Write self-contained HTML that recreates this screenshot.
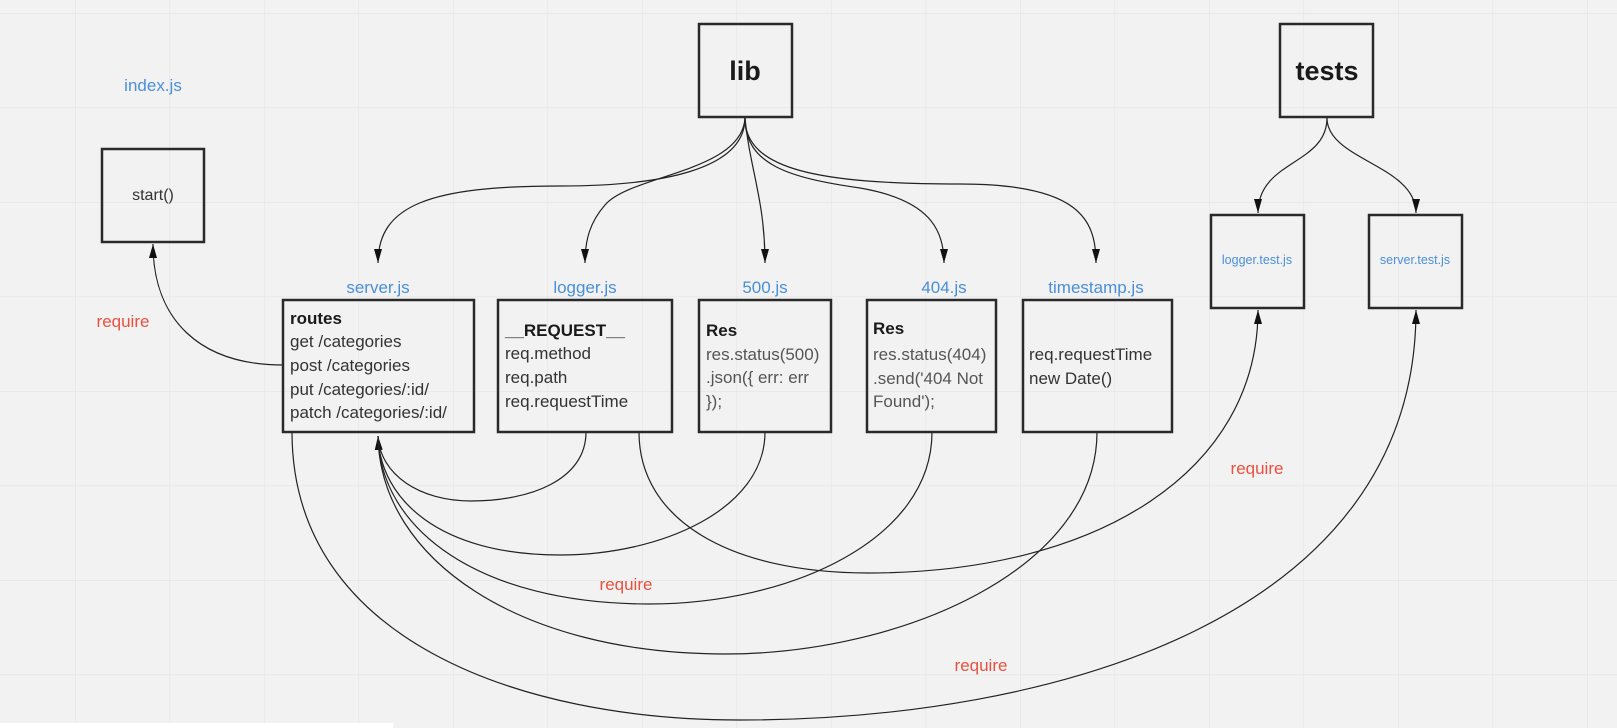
<!DOCTYPE html>
<html><head><meta charset="utf-8"><style>
html,body{margin:0;padding:0;background:#f2f2f2;}
svg{display:block;}
text{font-family:"Liberation Sans",sans-serif;}
</style></head><body>
<svg width="1617" height="728" viewBox="0 0 1617 728" xmlns="http://www.w3.org/2000/svg">
<defs>
<pattern id="g" x="75" y="13" width="94.5" height="94.5" patternUnits="userSpaceOnUse">
<path d="M0,0 V94.5 M0,0 H94.5" stroke="#e4e4e4" stroke-width="1.2" fill="none"/>
</pattern>
<marker id="a" viewBox="0 0 10 10" refX="10" refY="5" markerWidth="14" markerHeight="8" markerUnits="userSpaceOnUse" orient="auto" preserveAspectRatio="none">
<path d="M0,0 L10,5 L0,10 z" fill="#111"/>
</marker>
</defs>
<rect width="1617" height="728" fill="#f2f2f2"/>
<rect width="1617" height="728" fill="url(#g)"/>
<rect x="0" y="723" width="393" height="5" fill="#fff"/>

<g fill="none" stroke="#222" stroke-width="1.2">
<path d="M745,118 C745,170 660,186 560,186 C430,186 378,205 378,263" marker-end="url(#a)"/>
<path d="M745,118 C742,172 630,175 605,205 C590,222 585,240 585,263" marker-end="url(#a)"/>
<path d="M745,118 C750,170 765,200 765,263" marker-end="url(#a)"/>
<path d="M745,118 C745,165 790,178 860,188 C930,200 944,230 944,263" marker-end="url(#a)"/>
<path d="M745,118 C745,170 820,184 960,184 C1080,184 1096,220 1096,263" marker-end="url(#a)"/>
<path d="M1327,118 C1327,165 1258,160 1258,213" marker-end="url(#a)"/>
<path d="M1327,118 C1327,160 1416,165 1416,213" marker-end="url(#a)"/>
<path d="M283,365 C200,365 153,320 153,244" marker-end="url(#a)"/>
<path d="M586,432 C586,480 530,501 471,501 C420,501 380,475 378,436" marker-end="url(#a)"/>
<path d="M765,432 C765,510 660,555 560,555 C440,555 380,500 378,436"/>
<path d="M932,432 C932,540 790,604 649,604 C480,604 380,530 378,436"/>
<path d="M1097,432 C1097,570 900,654 725,654 C520,654 380,560 378,436"/>
<path d="M639,432 C639,520 730,573 868,573 C1100,573 1258,470 1258,310" marker-end="url(#a)"/>
<path d="M292,432 C292,640 520,720 740,720 C1050,720 1416,620 1416,310" marker-end="url(#a)"/>
</g>

<g fill="none" stroke="#2a2a2a" stroke-width="2.5">
<rect x="102" y="149" width="102" height="93"/>
<rect x="699" y="24" width="93" height="93"/>
<rect x="1280" y="24" width="93" height="93"/>
<rect x="1211" y="215" width="93" height="93"/>
<rect x="1369" y="215" width="93" height="93"/>
<rect x="283" y="300" width="191" height="132"/>
<rect x="498" y="300" width="174" height="132"/>
<rect x="699" y="300" width="132" height="132"/>
<rect x="867" y="300" width="129" height="132"/>
<rect x="1023" y="300" width="149" height="132"/>
</g>

<g font-size="17" fill="#4a8fd8" text-anchor="middle">
<text x="153" y="91">index.js</text>
<text x="378" y="293">server.js</text>
<text x="585" y="293">logger.js</text>
<text x="765" y="293">500.js</text>
<text x="944" y="293">404.js</text>
<text x="1096" y="293">timestamp.js</text>
<text x="1257" y="264" font-size="12.5">logger.test.js</text>
<text x="1415" y="264" font-size="12.5">server.test.js</text>
</g>

<g font-size="17" fill="#e8513f" text-anchor="middle">
<text x="123" y="327">require</text>
<text x="626" y="590">require</text>
<text x="1257" y="474">require</text>
<text x="981" y="671">require</text>
</g>

<g font-size="27" font-weight="bold" fill="#1a1a1a" text-anchor="middle">
<text x="745" y="80">lib</text>
<text x="1327" y="80">tests</text>
</g>

<text x="153" y="200" font-size="16" fill="#333" text-anchor="middle">start()</text>

<g font-size="17" fill="#333">
<text x="290" y="324" font-weight="bold" fill="#1a1a1a">routes</text>
<text x="290" y="347">get /categories</text>
<text x="290" y="371">post /categories</text>
<text x="290" y="395">put /categories/:id/</text>
<text x="290" y="418">patch /categories/:id/</text>

<text x="505" y="336" font-weight="bold" fill="#1a1a1a">__REQUEST__</text>
<text x="505" y="359">req.method</text>
<text x="505" y="383">req.path</text>
<text x="505" y="407">req.requestTime</text>

<text x="706" y="336" font-weight="bold" fill="#1a1a1a">Res</text>
<text x="706" y="360" fill="#555">res.status(500)</text>
<text x="706" y="383" fill="#555">.json({ err: err</text>
<text x="706" y="407" fill="#555">});</text>

<text x="873" y="334" font-weight="bold" fill="#1a1a1a">Res</text>
<text x="873" y="360" fill="#555">res.status(404)</text>
<text x="873" y="384" fill="#555">.send('404 Not</text>
<text x="873" y="407" fill="#555">Found');</text>

<text x="1029" y="360">req.requestTime</text>
<text x="1029" y="384">new Date()</text>
</g>
</svg>
</body></html>
